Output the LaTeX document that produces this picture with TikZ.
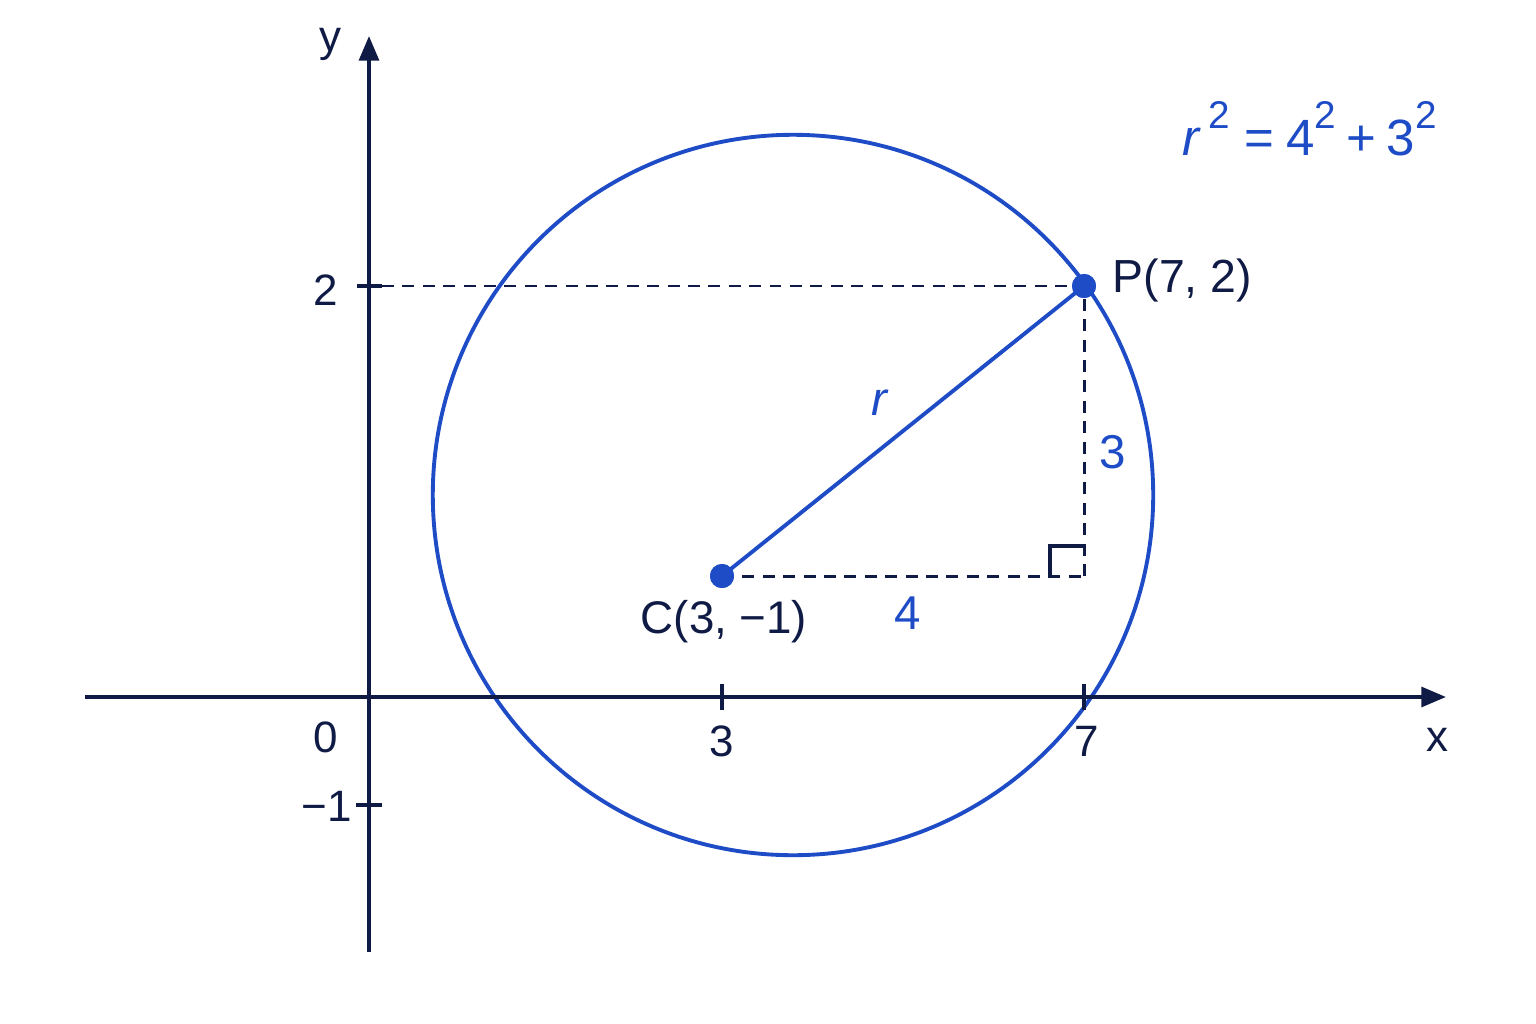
\documentclass[tikz,border=0pt]{standalone}
\usepackage{fontspec}
\setmainfont{Liberation Sans}
\usetikzlibrary{arrows.meta}
\definecolor{navy}{HTML}{0F1B45}
\definecolor{bluec}{HTML}{1E4CC6}
\newcommand{\sqr}{\raisebox{0.52em}{\fontsize{11}{11}\selectfont 2}}
\tikzset{
  axis/.style={navy, line width=1.1pt, -{Triangle[length=7pt,width=5.6pt]}},
  tickline/.style={navy, line width=1.1pt},
  guide/.style={navy, line width=0.85pt, dash pattern=on 3.4pt off 2.4pt},
  lbl/.style={navy, font=\fontsize{12.5}{14}\selectfont, inner sep=0pt},
  blbl/.style={bluec, font=\fontsize{13.5}{15}\selectfont, inner sep=0pt},
  dot/.style={circle, fill=bluec, minimum size=0.24cm, inner sep=0pt}
}
\begin{document}
\begin{tikzpicture}[x=0.01cm,y=-0.01cm]
\useasboundingbox (0,0) rectangle (1536,1024);
\fill[white] (0,0) rectangle (1536,1024);
% coordinates
\coordinate (xs) at (85,697);
\coordinate (xe) at (1446,697);
\coordinate (ys) at (369,952);
\coordinate (ye) at (369,36);
\coordinate (O) at (793,495);
\coordinate (F) at (1084,576);
\coordinate (T2) at (382,286);
\coordinate (T2s) at (357,286);
% circle
\draw[bluec, line width=1.1pt] (O) circle[radius=3.6cm];
% axes
\draw[axis] (xs) -- (xe);
\draw[axis] (ys) -- (ye);
% ticks
\draw[tickline] (722,684) -- (722,710);
\draw[tickline] (1084,684) -- (1084,710);
\draw[tickline] (356,805) -- (382,805);
\draw[tickline] (T2s) -- (T2);
% points
\node[dot] (P) at (1084,286) {};
\node[dot] (C) at (722,576) {};
% guides
\draw[guide] (T2) -- (P.center);
\draw[guide] (C.center) -- (F);
\draw[guide] (F) -- (P.center);
\draw[navy, line width=0.95pt] (1084,546) -- (1050,546) -- (1050,576);
% radius
\draw[bluec, line width=1.1pt] (C.center) -- (P.center);
\node[dot] at (1084,286) {};
\node[dot] at (722,576) {};
% labels
\node[lbl] (ly) at (330,44) {y};
\node[lbl] (lx) at (1437,740) {x};
\node[lbl] (l0) at (326,737) {0};
\node[lbl] (l2) at (326,290) {2};
\node[lbl] (lm1) at (327,806) {−1};
\node[lbl] (l3) at (722,741) {3};
\node[lbl] (l7) at (1087,741) {7};
\node[lbl, font=\fontsize{13}{15}\selectfont] (lC) at (724,622) {C(3, −1)};
\node[lbl, font=\fontsize{13.2}{15}\selectfont, anchor=west] (lP) at (1112,280) {P(7, 2)};
\node[blbl] (lr) at (880,403) {\textit{r}};
\node[blbl] (l4) at (908,613) {4};
\node[blbl] (l3b) at (1113,452) {3};
\node[blbl, anchor=base west, font=\fontsize{14.5}{16}\selectfont] (eq) at (1182,155) {\textit{r}\kern2pt\sqr\kern4pt{=}\kern3.5pt4\kern0pt\sqr\kern3pt{+}\kern3pt3\kern0pt\sqr};
\end{tikzpicture}
\end{document}
